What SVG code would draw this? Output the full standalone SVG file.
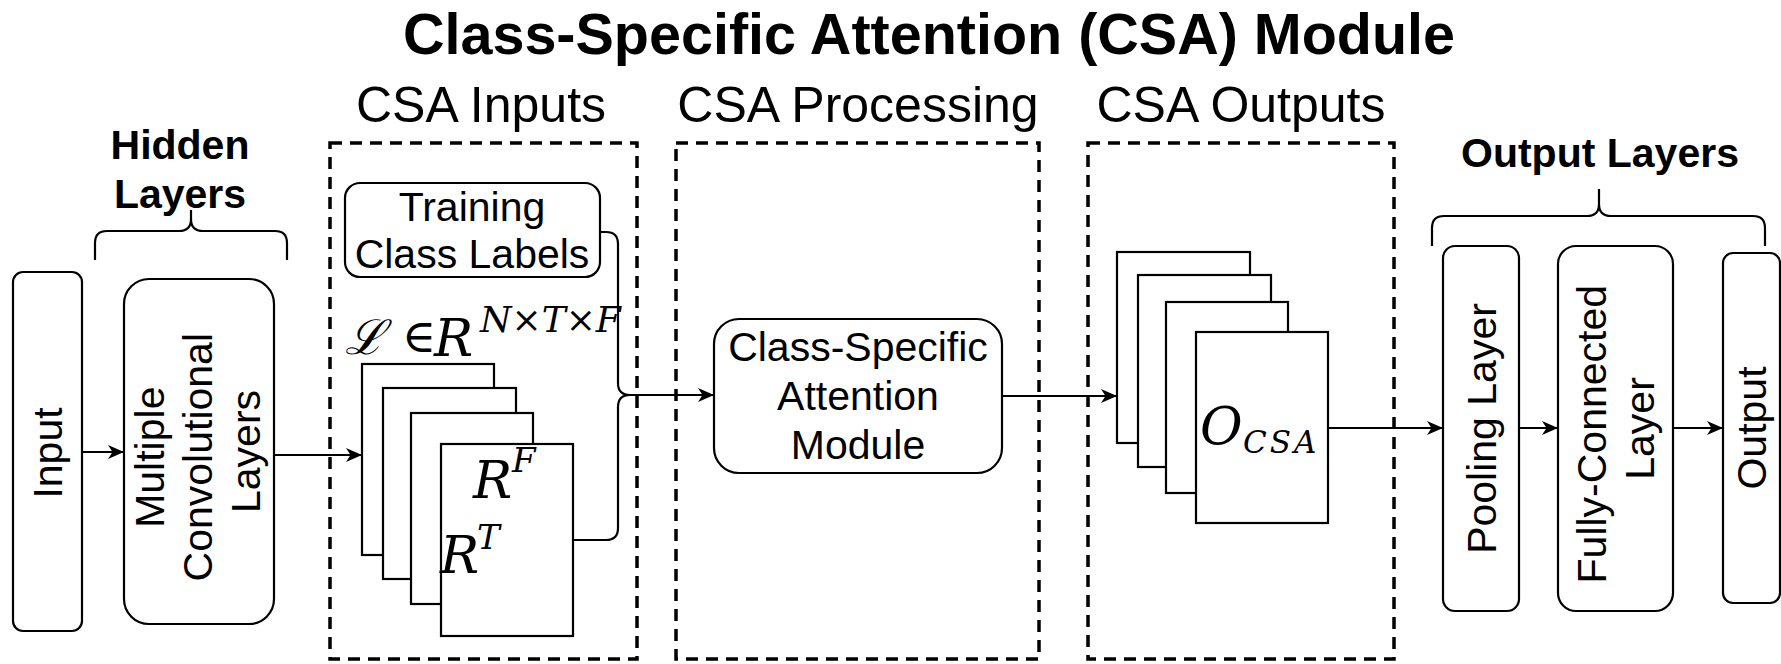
<svg xmlns="http://www.w3.org/2000/svg" width="1781" height="664" viewBox="0 0 1781 664">
  <defs>
    <style>
      text { font-family: "Liberation Sans", Arial, Helvetica, sans-serif; fill: #000; }
      .title { font-size: 57.5px; font-weight: bold; text-anchor: middle; }
      .head { font-size: 50px; text-anchor: middle; }
      .group { font-size: 41px; font-weight: bold; text-anchor: middle; }
      .lbl { font-size: 41px; text-anchor: middle; }
      .math { font-family: "DejaVu Serif", "Liberation Serif", serif; font-style: italic; }
      .op { font-family: "DejaVu Serif", "Liberation Serif", serif; font-style: normal; }
      .box { fill: #fff; stroke: #000; stroke-width: 2.2; }
      .frame { fill: none; stroke: #000; stroke-width: 3.5; stroke-dasharray: 12 8; }
      .wire { fill: none; stroke: #000; stroke-width: 2.2; }
    </style>
    <marker id="arrow" markerUnits="userSpaceOnUse" markerWidth="18" markerHeight="16" refX="16" refY="8" orient="auto">
      <path d="M0,1 L16,8 L0,15 L4.5,8 Z" fill="#000"/>
    </marker>
  </defs>

  <rect width="1781" height="664" fill="#fff"/>

  <!-- headings -->
  <text class="title" x="929" y="54">Class-Specific Attention (CSA) Module</text>
  <text class="head" x="481" y="122">CSA Inputs</text>
  <text class="head" x="858" y="122">CSA Processing</text>
  <text class="head" x="1241" y="122">CSA Outputs</text>

  <!-- stage frames -->
  <g id="frame-inputs"><rect class="frame" x="330" y="143" width="307" height="516"/></g>
  <g id="frame-processing"><rect class="frame" x="676" y="143" width="363" height="516"/></g>
  <g id="frame-outputs"><rect class="frame" x="1088" y="143" width="306" height="516"/></g>

  <!-- hidden layers group -->
  <g id="hidden-layers">
    <text class="group" x="180" y="159">Hidden</text>
    <text class="group" x="180" y="208">Layers</text>
    <path class="wire" d="M95,260 V243 Q95,231 107,231 H179 Q191,231 191,219 V210 M191,219 Q191,231 203,231 H275 Q287,231 287,243 V260"/>
  </g>

  <!-- output layers group -->
  <g id="output-layers">
    <text class="group" x="1600" y="167">Output Layers</text>
    <path class="wire" d="M1432,246 V228 Q1432,216 1444,216 H1587 Q1599,216 1599,204 V189 M1599,204 Q1599,216 1611,216 H1753 Q1765,216 1765,228 V246"/>
  </g>

  <g id="input">
    <rect class="box" x="13" y="272" width="69" height="359" rx="10"/>
    <text class="lbl" transform="translate(47.5,453) rotate(-90)" x="0" y="14.5">Input</text>
  </g>

  <g id="conv-layers">
    <rect class="box" x="124" y="279" width="150" height="345" rx="25"/>
    <text class="lbl" transform="translate(197,451.5) rotate(-90)">
      <tspan x="0" y="-33.5">Multiple</tspan>
      <tspan x="0" y="14.5">Convolutional</tspan>
      <tspan x="0" y="62.5">Layers</tspan>
    </text>
  </g>

  <g id="class-labels">
    <rect class="box" x="345" y="183" width="255" height="94" rx="15"/>
    <text class="lbl" x="472" y="221">Training</text>
    <text class="lbl" x="472" y="268">Class Labels</text>
  </g>

  <g id="feature-maps">
    <text class="math" font-size="52">
      <tspan x="345" y="354" font-size="48">ℒ</tspan><tspan class="op" x="402" y="352" font-size="46">∈</tspan><tspan x="434" y="356">R</tspan><tspan x="480" y="332" font-size="36">N×T×F</tspan>
    </text>
    <rect class="box" x="362" y="364" width="132" height="191"/>
    <rect class="box" x="383" y="388" width="133" height="191"/>
    <rect class="box" x="411" y="413" width="122" height="191"/>
    <rect class="box" x="441" y="444" width="132" height="192"/>
    <text class="math" font-size="52"><tspan x="473" y="498">R</tspan><tspan x="512" y="472" font-size="34">F</tspan></text>
    <text class="math" font-size="52"><tspan x="440" y="573">R</tspan><tspan x="477" y="549" font-size="34">T</tspan></text>
  </g>

  <g id="csa-module">
    <rect class="box" x="714" y="319" width="288" height="154" rx="25"/>
    <text class="lbl" x="858" y="361">Class-Specific</text>
    <text class="lbl" x="858" y="410">Attention</text>
    <text class="lbl" x="858" y="459">Module</text>
  </g>

  <g id="csa-outputs">
    <rect class="box" x="1117" y="252" width="133" height="191"/>
    <rect class="box" x="1138" y="275" width="133" height="192"/>
    <rect class="box" x="1166" y="302" width="122" height="191"/>
    <rect class="box" x="1196" y="332" width="132" height="191"/>
    <text class="math" font-size="52"><tspan x="1200" y="444">O</tspan><tspan x="1243" y="453" font-size="31" letter-spacing="3">CSA</tspan></text>
  </g>

  <g id="pooling">
    <rect class="box" x="1443" y="246" width="76" height="365" rx="12"/>
    <text class="lbl" transform="translate(1481,428.5) rotate(-90)" x="0" y="14.5">Pooling Layer</text>
  </g>

  <g id="fully-connected">
    <rect class="box" x="1558" y="246" width="115" height="365" rx="18"/>
    <text class="lbl" transform="translate(1615.5,428.5) rotate(-90)">
      <tspan x="0" y="-9.5">Fully-Connected</tspan>
      <tspan x="0" y="38.5">Layer</tspan>
    </text>
  </g>

  <g id="output">
    <rect class="box" x="1723" y="253" width="57" height="350" rx="10"/>
    <text class="lbl" transform="translate(1751.5,428) rotate(-90)" x="0" y="14.5">Output</text>
  </g>

  <!-- connectors -->
  <g id="connectors">
    <path class="wire" d="M82,452 H124" marker-end="url(#arrow)"/>
    <path class="wire" d="M274,455 H362" marker-end="url(#arrow)"/>
    <path class="wire" d="M600,232 H606 Q618,232 618,244 V383 Q618,395 630,395 H714" marker-end="url(#arrow)"/>
    <path class="wire" d="M573,540 H606 Q618,540 618,528 V407 Q618,395 630,395"/>
    <path class="wire" d="M1002,396 H1117" marker-end="url(#arrow)"/>
    <path class="wire" d="M1328,428 H1443" marker-end="url(#arrow)"/>
    <path class="wire" d="M1519,428 H1558" marker-end="url(#arrow)"/>
    <path class="wire" d="M1673,428 H1723" marker-end="url(#arrow)"/>
  </g>
</svg>
